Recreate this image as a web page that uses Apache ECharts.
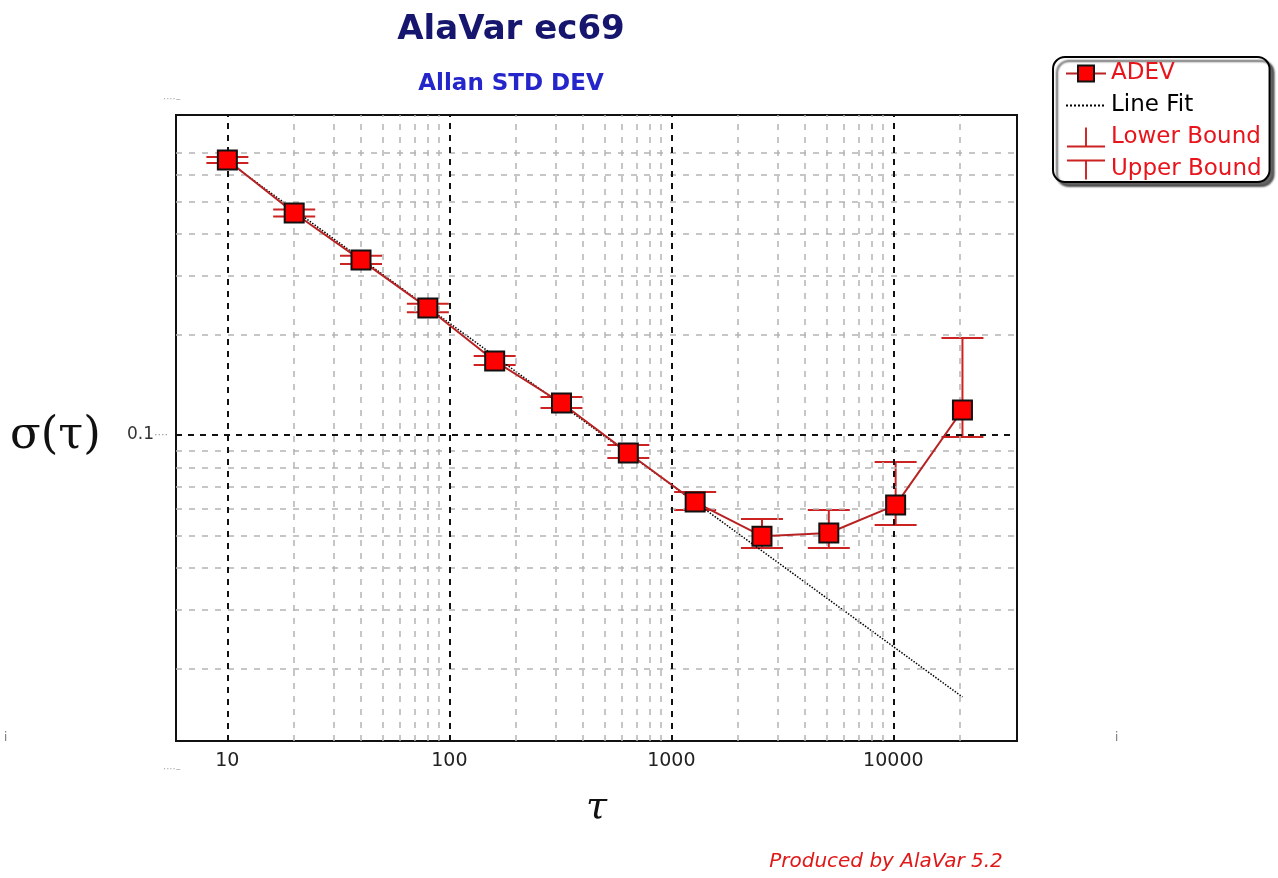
<!DOCTYPE html>
<html>
<head>
    <meta charset="UTF-8">
    <title>AlaVar ec69</title>
    <style>
        html, body { margin: 0; padding: 0; background: #fff; }
        #main { width: 1278px; height: 878px; }
    </style>
    <script src="https://cdn.jsdelivr.net/npm/echarts@6/dist/echarts.min.js"></script>
</head>
<body>
    <div id="main"></div>
    <script type="text/javascript">
        // averaging times and Allan deviation
        var tau = [10, 20, 40, 80, 160, 320, 640, 1280, 2560, 5120, 10240, 20480];
        var adev = [0.666, 0.462, 0.334, 0.240, 0.1666, 0.1247, 0.0883, 0.0630, 0.0498, 0.0509, 0.0617, 0.1188];
        var lowerBound = [0.652, 0.451, 0.325, 0.233, 0.1620, 0.1205, 0.0853, 0.0596, 0.0459, 0.0459, 0.0538, 0.0986];
        var upperBound = [0.680, 0.473, 0.344, 0.247, 0.1724, 0.1299, 0.0933, 0.0675, 0.0560, 0.0596, 0.0830, 0.1952];
        // line fit end points
        var fitTau = [10, 20480];
        var fitVal = [0.660, 0.01643];
        // grid lines
        var xMajor = [10, 100, 1000, 10000];
        var xMinor = [20, 30, 40, 50, 60, 70, 80, 90, 200, 300, 400, 500, 600, 700, 800, 900,
            2000, 3000, 4000, 5000, 6000, 7000, 8000, 9000, 20000];
        var yMajor = [0.1];
        var yMinor = [0.02, 0.03, 0.04, 0.05, 0.06, 0.07, 0.08, 0.09, 0.2, 0.3, 0.4, 0.5, 0.6, 0.7];

        var red = '#e8141c';
        var barColor = '#cc2222';
        var font = 'DejaVu Sans';

        function isDecade(v) {
            var l = Math.log10(v);
            return Math.abs(l - Math.round(l)) < 1e-6;
        }

        // one half of an error bar: from the point to the bound, with a cap
        function errBar(params, api) {
            var x = api.value(0);
            var p0 = api.coord([x, api.value(1)]);
            var p1 = api.coord([x, api.value(2)]);
            var half = 21;
            var st = { stroke: barColor, lineWidth: 2 };
            return {
                type: 'group',
                children: [
                    { type: 'line', shape: { x1: p0[0], y1: p0[1], x2: p1[0], y2: p1[1] }, style: st },
                    { type: 'line', shape: { x1: p1[0] - half, y1: p1[1], x2: p1[0] + half, y2: p1[1] }, style: st }
                ]
            };
        }

        var gridLines = [];
        xMinor.forEach(function (v) {
            gridLines.push({ xAxis: v, lineStyle: { color: '#b4b4b4', type: [6, 7], width: 1.5 } });
        });
        yMinor.forEach(function (v) {
            gridLines.push({ yAxis: v, lineStyle: { color: '#b4b4b4', type: [6, 7], width: 1.5 } });
        });
        xMajor.forEach(function (v) {
            gridLines.push({ xAxis: v, lineStyle: { color: '#111', type: [6, 6], width: 2 } });
        });
        yMajor.forEach(function (v) {
            gridLines.push({ yAxis: v, lineStyle: { color: '#111', type: [6, 6], width: 2 } });
        });

        var myChart = echarts.init(document.getElementById('main'));

        var option = {
            animation: false,
            backgroundColor: '#fff',
            title: [
                {
                    text: 'AlaVar ec69',
                    left: 506, top: 8, textAlign: 'center',
                    textStyle: { fontFamily: font, fontSize: 34, fontWeight: 'bold', color: '#16166e' }
                },
                {
                    text: 'Allan STD DEV',
                    left: 506, top: 68, textAlign: 'center',
                    textStyle: { fontFamily: font, fontSize: 23, fontWeight: 'bold', color: '#2525cc' }
                },
                {
                    text: 'Produced by AlaVar 5.2',
                    left: 881, top: 847, textAlign: 'center',
                    textStyle: { fontFamily: font, fontSize: 20, fontStyle: 'italic', fontWeight: 'normal', color: '#e01818' }
                }
            ],
            legend: {
                orient: 'vertical',
                left: 1053, top: 57,
                padding: [5, 8, 1, 12],
                itemWidth: 40, itemHeight: 20, itemGap: 9,
                selectedMode: false,
                backgroundColor: '#fff',
                borderColor: '#000', borderWidth: 2, borderRadius: 12,
                shadowColor: 'rgba(0,0,0,0.6)', shadowBlur: 2, shadowOffsetX: 4, shadowOffsetY: 4,
                textStyle: { fontFamily: font, fontSize: 23 },
                data: [
                    { name: 'ADEV', textStyle: { color: red } },
                    { name: 'Line Fit', itemStyle: { color: 'rgba(0,0,0,0)', borderColor: 'rgba(0,0,0,0)' }, textStyle: { color: '#000' } },
                    { name: 'Lower Bound', icon: 'path://M19 0H21V19H40V21H0V19H19Z', itemStyle: { color: barColor }, textStyle: { color: red } },
                    { name: 'Upper Bound', icon: 'path://M0 0H40V2H21V21H19V2H0Z', itemStyle: { color: barColor }, textStyle: { color: red } }
                ]
            },
            grid: {
                left: 176, right: 261, top: 115, bottom: 137,
                show: true, backgroundColor: '#fff',
                borderColor: '#111', borderWidth: 2
            },
            xAxis: {
                type: 'log', logBase: 10,
                min: 5.87, max: 36060,
                name: 'τ', nameLocation: 'middle', nameGap: 48,
                nameTextStyle: { fontFamily: 'DejaVu Serif', fontStyle: 'italic', fontSize: 38, color: '#111' },
                axisLine: { lineStyle: { color: '#111', width: 2 } },
                axisTick: { show: false },
                splitLine: { show: false },
                axisLabel: {
                    margin: 11, fontFamily: font, fontSize: 19, color: '#222',
                    showMinLabel: false, showMaxLabel: false,
                    formatter: function (v) { return isDecade(v) ? String(Math.round(v)) : ''; }
                }
            },
            yAxis: {
                type: 'log', logBase: 10,
                min: 0.01213, max: 0.908,
                axisLine: { lineStyle: { color: '#111', width: 2 } },
                axisTick: { show: false },
                splitLine: { show: false },
                axisLabel: {
                    margin: 8,
                    showMinLabel: false, showMaxLabel: false,
                    formatter: function (v) {
                        return isDecade(v) ? '{a|' + (Math.round(v * 1000) / 1000) + '}{b|····}' : '';
                    },
                    rich: {
                        a: { fontFamily: font, fontSize: 17, color: '#333' },
                        b: { fontFamily: font, fontSize: 11, color: '#999' }
                    }
                }
            },
            graphic: [
                // y axis title
                { type: 'text', x: 10, y: 436, style: { text: 'σ(τ)', fill: '#111', font: '45px DejaVu Serif', verticalAlign: 'middle' } },
                { type: 'text', left: 163, top: 94, style: { text: '····–', fill: '#aaa', font: '10px DejaVu Sans' } },
                { type: 'text', left: 163, top: 764, style: { text: '····–', fill: '#aaa', font: '10px DejaVu Sans' } },
                { type: 'text', left: 4, top: 732, style: { text: 'i', fill: '#777', font: '12px DejaVu Sans' } },
                { type: 'text', left: 1115, top: 732, style: { text: 'i', fill: '#777', font: '12px DejaVu Sans' } }
            ],
            series: [
                {
                    name: 'grid',
                    type: 'line',
                    data: [],
                    silent: true,
                    z: 1,
                    markLine: {
                        silent: true,
                        symbol: ['none', 'none'],
                        label: { show: false },
                        data: gridLines
                    }
                },
                {
                    name: 'Lower Bound',
                    type: 'custom',
                    renderItem: errBar,
                    itemStyle: { color: barColor },
                    encode: { x: 0, y: [1, 2] },
                    z: 3,
                    data: tau.map(function (t, i) { return [t, adev[i], lowerBound[i]]; })
                },
                {
                    name: 'Upper Bound',
                    type: 'custom',
                    renderItem: errBar,
                    itemStyle: { color: barColor },
                    encode: { x: 0, y: [1, 2] },
                    z: 3,
                    data: tau.map(function (t, i) { return [t, adev[i], upperBound[i]]; })
                },
                {
                    name: 'Line Fit',
                    type: 'line',
                    symbol: 'none',
                    z: 4,
                    lineStyle: { color: '#000', type: 'dotted', width: 1.5 },
                    itemStyle: { color: '#000' },
                    data: fitTau.map(function (t, i) { return [t, fitVal[i]]; })
                },
                {
                    name: 'ADEV',
                    type: 'line',
                    symbol: 'rect',
                    symbolSize: 19,
                    z: 5,
                    lineStyle: { color: '#b82222', width: 2 },
                    itemStyle: { color: '#ff0000', borderColor: '#111', borderWidth: 2 },
                    data: tau.map(function (t, i) { return [t, adev[i]]; })
                }
            ]
        };

        myChart.setOption(option);
    </script>
</body>
</html>
